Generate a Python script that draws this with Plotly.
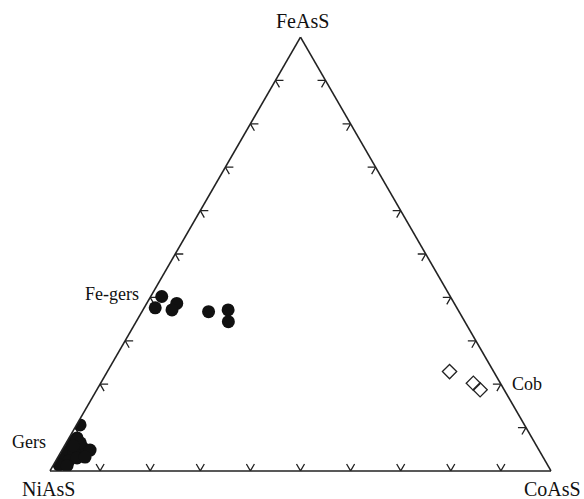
import plotly.graph_objects as go

# Compositions as mole fractions (FeAsS, NiAsS, CoAsS)
fe_gers_fe = [0.402, 0.376, 0.386, 0.371, 0.367, 0.371, 0.344]
fe_gers_co = [0.022, 0.022, 0.060, 0.058, 0.133, 0.170, 0.184]

gers_fe = [0.106, 0.069, 0.076, 0.053, 0.048, 0.044, 0.042, 0.025, 0.023,
           0.030, 0.014, 0.012, 0.065, 0.032, 0.058]
gers_co = [0.007, 0.005, 0.016, 0.039, 0.056, 0.012, 0.027, 0.009, 0.026,
           0.039, 0.011, 0.028, 0.028, 0.054, 0.017]

cob_fe = [0.229, 0.202, 0.187]
cob_co = [0.683, 0.744, 0.765]

tick_values = [0.1, 0.2, 0.3, 0.4, 0.5, 0.6, 0.7, 0.8, 0.9]
serif = "Liberation Serif, Times New Roman, serif"

W, H = 584, 499
M_L, M_R, M_T, M_B = 50, 33, 37, 28
PLOT_W, PLOT_H = W - M_L - M_R, H - M_T - M_B


def ni_of(fe, co):
    return [1 - f - c for f, c in zip(fe, co)]


# V-shaped edge ticks: two short gridline stubs at each tick value
arm = 0.016
ta, tb, tc = [], [], []
for t in tick_values:
    # bottom edge (FeAsS = 0)
    for a, b, c in [(arm, 1 - t, t - arm), (0, 1 - t, t), (arm, 1 - t - arm, t)]:
        ta.append(a); tb.append(b); tc.append(c)
    ta.append(None); tb.append(None); tc.append(None)
    # left edge (CoAsS = 0)
    for a, b, c in [(t, 1 - t - arm, arm), (t, 1 - t, 0), (t - arm, 1 - t, arm)]:
        ta.append(a); tb.append(b); tc.append(c)
    ta.append(None); tb.append(None); tc.append(None)
    # right edge (NiAsS = 0)
    for a, b, c in [(t, arm, 1 - t - arm), (t, 0, 1 - t), (t - arm, arm, 1 - t)]:
        ta.append(a); tb.append(b); tc.append(c)
    ta.append(None); tb.append(None); tc.append(None)

fig = go.Figure()
fig.add_trace(go.Scatterternary(
    a=ta, b=tb, c=tc, mode="lines",
    line=dict(color="#222222", width=1.3),
    hoverinfo="skip", showlegend=False,
))
fig.add_trace(go.Scatterternary(
    a=fe_gers_fe, b=ni_of(fe_gers_fe, fe_gers_co), c=fe_gers_co,
    mode="markers", name="Fe-gers",
    marker=dict(symbol="circle", size=13, color="#111111",
                line=dict(width=0)),
    showlegend=False,
))
fig.add_trace(go.Scatterternary(
    a=gers_fe, b=ni_of(gers_fe, gers_co), c=gers_co,
    mode="markers", name="Gers",
    marker=dict(symbol="circle", size=13, color="#111111",
                line=dict(width=0)),
    showlegend=False,
))
fig.add_trace(go.Scatterternary(
    a=cob_fe, b=ni_of(cob_fe, cob_co), c=cob_co,
    mode="markers", name="Cob",
    marker=dict(symbol="diamond-open", size=11, color="#222222",
                line=dict(width=1.3)),
    showlegend=False,
))

axis_style = dict(
    showline=True, linecolor="#222222", linewidth=1.6,
    showgrid=False, showticklabels=False, ticks="",
    title=dict(text=""), min=0,
)


def label(text, px, py, size):
    # px, py: page pixels measured from the top-left corner
    return dict(
        text=text, xref="paper", yref="paper",
        x=(px - M_L) / PLOT_W, y=(H - M_B - py) / PLOT_H,
        showarrow=False, xanchor="center", yanchor="middle",
        font=dict(size=size),
    )


fig.update_layout(
    width=W, height=H,
    margin=dict(l=M_L, r=M_R, t=M_T, b=M_B),
    paper_bgcolor="white",
    ternary=dict(
        sum=1,
        bgcolor="white",
        domain=dict(x=[0, 1], y=[0, 1]),
        aaxis=axis_style, baxis=axis_style, caxis=axis_style,
    ),
    font=dict(family=serif, color="#111111"),
    annotations=[
        label("FeAsS", 302, 21, 20),
        label("NiAsS", 48, 489, 20),
        label("CoAsS", 552, 489, 20),
        label("Fe-gers", 112, 294, 18),
        label("Gers", 29, 442, 18),
        label("Cob", 527, 384, 18),
    ],
)

fig.write_html("out.html")
